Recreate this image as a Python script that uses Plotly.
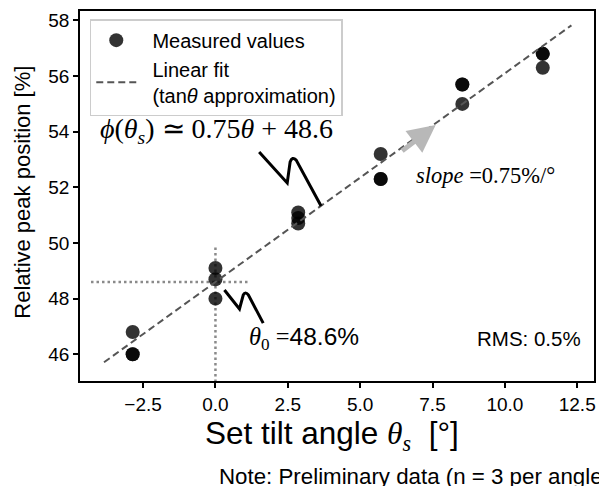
import plotly.graph_objects as go

# Set tilt angles (deg) and measured relative peak positions (%), n = 3 per angle
angles = [-2.86, 0.0, 2.86, 5.71, 8.53, 11.31]
peak_runs = [
    [46.8, 46.0, 46.0],
    [49.1, 48.7, 48.0],
    [51.1, 50.9, 50.7],
    [53.2, 52.3, 52.3],
    [55.7, 55.7, 55.0],
    [56.8, 56.8, 56.3],
]

# Linear fit (tan-theta approximation)
fit_slope = 0.75
fit_intercept = 48.6
fit_span = [-3.85, 12.3]
rms_percent = 0.5

x_ticks = [-2.5, 0.0, 2.5, 5.0, 7.5, 10.0, 12.5]
y_ticks = [46, 48, 50, 52, 54, 56, 58]

SANS = "Liberation Sans, Arial, sans-serif"
SERIF = "Liberation Serif, Times New Roman, serif"

meas_x = [a for a, runs in zip(angles, peak_runs) for _ in runs]
meas_y = [v for runs in peak_runs for v in runs]
fit_y = [fit_slope * x + fit_intercept for x in fit_span]

PAD = "\u00a0\u00a0"

fig = go.Figure()

# theta_0 guide lines
fig.add_trace(go.Scatter(
    x=[-4.3, 1.2], y=[fit_intercept, fit_intercept], mode="lines",
    line=dict(color="#8a8a8a", width=2.5, dash="2.5px,3px"),
    showlegend=False, hoverinfo="skip"))
fig.add_trace(go.Scatter(
    x=[0.0, 0.0], y=[45.0, 49.9], mode="lines",
    line=dict(color="#8a8a8a", width=2.5, dash="2.5px,3px"),
    showlegend=False, hoverinfo="skip"))

fig.add_trace(go.Scatter(
    x=meas_x, y=meas_y, mode="markers", name=PAD + "Measured values",
    marker=dict(color="black", size=14, opacity=0.8, line=dict(width=0))))

fig.add_trace(go.Scatter(
    x=fit_span, y=fit_y, mode="lines",
    name=PAD + "Linear fit<br>" + PAD + "(tan<i>θ</i> approximation)",
    line=dict(color="#555555", width=2, dash="7px,4px")))

# hand-drawn style connectors to the labels
squiggle_fit = "M 1.51,53.27 L 2.48,52.16 L 2.58,52.91 Q 2.65,53.13 2.79,52.98 L 3.65,51.33"
squiggle_t0 = "M 0.31,48.31 L 0.83,47.63 L 0.96,48.13 Q 1.03,48.27 1.14,48.13 L 1.65,47.12"
for p in (squiggle_fit, squiggle_t0):
    fig.add_shape(type="path", path=p, xref="x", yref="y",
                  line=dict(color="black", width=3))

annotations = [
    # slope arrow
    dict(x=7.61, y=54.24, ax=6.40, ay=53.27, xref="x", yref="y",
         axref="x", ayref="y", text="", showarrow=True,
         arrowhead=2, arrowsize=1.1, arrowwidth=5, arrowcolor="#b8b8b8"),
    dict(x=-4.06, y=54.03, xref="x", yref="y", xanchor="left", yanchor="middle",
         text="<i>ϕ</i>(<i>θ<sub>s</sub></i>) ≃ 0.75<i>θ</i> + 48.6",
         showarrow=False, font=dict(family=SERIF, size=28, color="black")),
    dict(x=6.85, y=52.41, xref="x", yref="y", xanchor="left", yanchor="middle",
         text=f"<i>slope</i> ={fit_slope}%/°",
         showarrow=False, font=dict(family=SERIF, size=22.5, color="black")),
    dict(x=1.10, y=46.58, xref="x", yref="y", xanchor="left", yanchor="middle",
         text=f"<i>θ</i><sub>0</sub> =<span style='font-family:{SANS}'>{fit_intercept}%</span>",
         showarrow=False, font=dict(family=SERIF, size=24.5, color="black")),
    dict(x=12.7, y=46.58, xref="x", yref="y", xanchor="right", yanchor="middle",
         text=f"RMS: {rms_percent}%",
         showarrow=False, font=dict(family=SANS, size=20.5, color="black")),
    # axis titles
    dict(x=0.49, y=-0.146, xref="paper", yref="paper", xanchor="center", yanchor="middle",
         text=f"Set tilt angle <span style='font-family:{SERIF}'><i>θ<sub>s</sub></i></span>  [°]",
         showarrow=False, font=dict(family=SANS, size=31.5, color="black")),
    dict(x=-0.112, y=0.51, xref="paper", yref="paper", xanchor="center", yanchor="middle",
         text="Relative peak position [%]", textangle=-90,
         showarrow=False, font=dict(family=SANS, size=22, color="black")),
    dict(x=0.267, y=-0.257, xref="paper", yref="paper", xanchor="left", yanchor="middle",
         text="Note: Preliminary data (n = 3 per angle)",
         showarrow=False, font=dict(family=SANS, size=22.3, color="black")),
]

axis_common = dict(
    showgrid=False, zeroline=False, showline=True, linecolor="black",
    linewidth=1.5, mirror=True, ticks="outside", ticklen=5, tickwidth=1.5,
    tickcolor="black", tickfont=dict(family=SANS, size=19, color="black"),
)

fig.update_layout(
    width=599, height=486,
    margin=dict(l=80, r=3, t=11, b=105),
    paper_bgcolor="white", plot_bgcolor="white",
    xaxis=dict(range=[-4.68, 13.08], tickvals=x_ticks, tickformat=".1f", **axis_common),
    yaxis=dict(range=[45.04, 58.34], tickvals=y_ticks, **axis_common),
    legend=dict(x=0.019, y=0.978, xanchor="left", yanchor="top",
                bgcolor="white", bordercolor="#cccccc", borderwidth=1.5,
                font=dict(family=SANS, size=20, color="black"),
                itemwidth=40),
    annotations=annotations,
)

fig.write_html("out.html")
